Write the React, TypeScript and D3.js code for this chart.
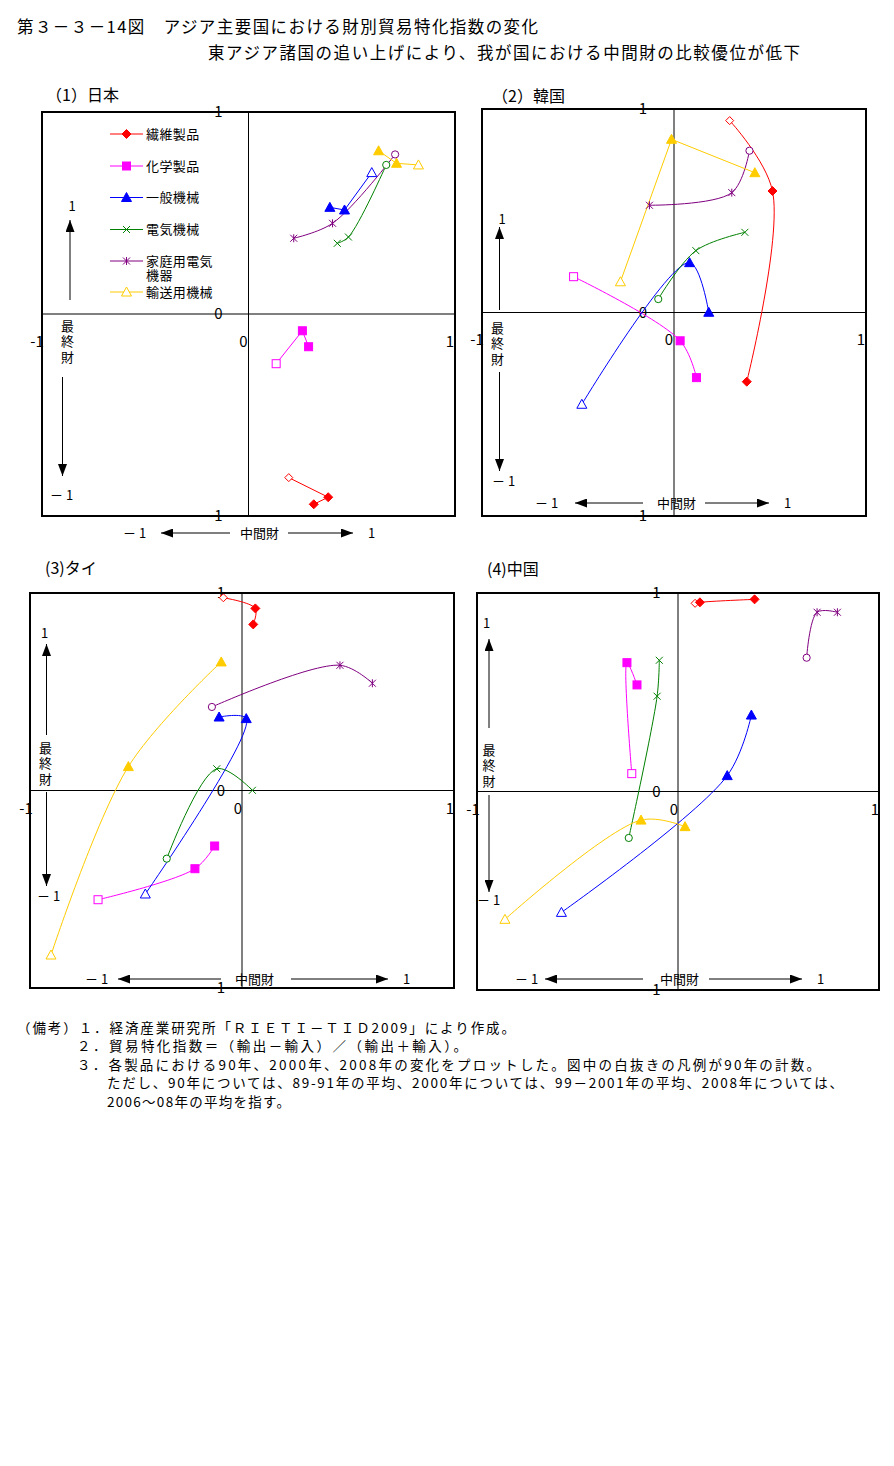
import * as d3 from 'd3';

// series order: 繊維製品, 化学製品, 一般機械, 電気機械, 家庭用電気機器, 輸送用機械
const seriesNames = ['繊維製品', '化学製品', '一般機械', '電気機械', '家庭用電気機器', '輸送用機械'];
const seriesColors = ['#FF0000', '#FF00FF', '#0000FF', '#008000', '#800080', '#FFCC00'];
const seriesMarkers = ['diamond', 'square', 'triangle', 'cross', 'star', 'triangle'];
const axisTicks = [-1, 0, 1];

// each series: [x, y] for 90年, 2000年, 2008年
const japan: [number, number][][] = [
  [[0.195, -0.81], [0.386, -0.907], [0.316, -0.942]],
  [[0.134, -0.246], [0.261, -0.083], [0.291, -0.162]],
  [[0.597, 0.70], [0.465, 0.515], [0.394, 0.528]],
  [[0.667, 0.738], [0.484, 0.381], [0.43, 0.35]],
  [[0.71, 0.79], [0.407, 0.449], [0.219, 0.375]],
  [[0.823, 0.738], [0.717, 0.746], [0.63, 0.808]],
];
const korea: [number, number][][] = [
  [[0.29, 0.943], [0.513, 0.597], [0.379, -0.34]],
  [[-0.523, 0.176], [0.032, -0.139], [0.117, -0.32]],
  [[-0.48, -0.451], [0.081, 0.245], [0.181, 0.001]],
  [[-0.082, 0.066], [0.114, 0.304], [0.369, 0.394]],
  [[0.393, 0.795], [0.301, 0.589], [-0.128, 0.527]],
  [[-0.279, 0.151], [-0.013, 0.851], [0.421, 0.687]],
];
const thailand: [number, number][][] = [
  [[-0.088, 0.976], [0.063, 0.922], [0.053, 0.841]],
  [[-0.679, -0.553], [-0.222, -0.396], [-0.129, -0.281]],
  [[-0.456, -0.524], [0.02, 0.364], [-0.108, 0.372]],
  [[-0.355, -0.345], [-0.119, 0.11], [0.049, 0.001]],
  [[-0.142, 0.423], [0.462, 0.634], [0.615, 0.543]],
  [[-0.901, -0.833], [-0.536, 0.121], [-0.098, 0.651]],
];
const china: [number, number][][] = [
  [[0.085, 0.948], [0.109, 0.953], [0.381, 0.968]],
  [[-0.23, 0.09], [-0.254, 0.649], [-0.204, 0.537]],
  [[-0.58, -0.609], [0.245, 0.08], [0.365, 0.385]],
  [[-0.245, -0.234], [-0.104, 0.48], [-0.093, 0.661]],
  [[0.64, 0.674], [0.692, 0.903], [0.793, 0.903]],
  [[-0.861, -0.644], [-0.184, -0.144], [0.035, -0.177]],
];

// which series are drawn as smoothed lines (others are straight segments)
const japanSmooth = [false, false, false, true, true, false];
const koreaSmooth = [true, true, true, true, true, false];
const thailandSmooth = [true, true, true, true, true, true];
const chinaSmooth = [true, true, true, true, true, true];

const titleText = '第３－３－14図　アジア主要国における財別貿易特化指数の変化';
const subtitleText = '東アジア諸国の追い上げにより、我が国における中間財の比較優位が低下';
const notes = [
  '（備考）１．経済産業研究所「ＲＩＥＴＩ－ＴＩＤ2009」により作成。',
  '２．貿易特化指数＝（輸出－輸入）／（輸出＋輸入）。',
  '３．各製品における90年、2000年、2008年の変化をプロットした。図中の白抜きの凡例が90年の計数。',
  'ただし、90年については、89-91年の平均、2000年については、99－2001年の平均、2008年については、',
  '2006～08年の平均を指す。',
];
const noteX = [17, 77, 77, 107, 107];
const noteY = [1033, 1051, 1070, 1088, 1107];
const noteW = [498, 390, 743, 736, 183];

const FONT = '"Noto Sans CJK JP", "Noto Sans", sans-serif';

interface PanelLayout {
  title: string; tx: number; ty: number;
  left: number; right: number; top: number; bottom: number;
  yLabDx: number; xLabDx: number; xLabDy: number;
  up: [number, number, number, number, number]; // label x,y ; arrow x, y1, y2
  vtext: [number, number];
  down: [number, number, number, number, number];
  under: [number, number, number, number, number, number, number];
}

const layouts: PanelLayout[] = [
  { title: '（1）日本', tx: 46, ty: 101, left: 42, right: 455, top: 112, bottom: 516,
    yLabDx: -26, xLabDx: -5, xLabDy: 28,
    up: [72, 206, 70, 300, 220], vtext: [67.5, 326], down: [50, 495, 62.5, 377, 476],
    under: [123, 533, 230, 161, 240, 288, 353] },
  { title: '（2）韓国', tx: 492, ty: 102, left: 482, right: 866, top: 109, bottom: 516,
    yLabDx: -27, xLabDx: -5, xLabDy: 27,
    up: [502, 219, 499.5, 310, 227], vtext: [497.5, 328], down: [492, 481, 499.5, 372, 471],
    under: [535, 503, 643, 575, 657, 705, 769] },
  { title: '(3)タイ', tx: 45, ty: 574, left: 30, right: 454, top: 593, bottom: 988,
    yLabDx: -17, xLabDx: -4, xLabDy: 18,
    up: [44.5, 633, 46.5, 735, 644], vtext: [45.5, 748], down: [37, 896, 46.5, 792, 886],
    under: [85, 979, 221, 118, 235, 291, 388] },
  { title: '(4)中国', tx: 487, ty: 575, left: 477, right: 879, top: 593, bottom: 990,
    yLabDx: -17.5, xLabDx: -4, xLabDy: 18,
    up: [486.5, 623, 489, 728, 639], vtext: [489, 750], down: [477, 900, 489, 795, 892],
    under: [515, 979, 643, 545, 660, 709, 802] },
];

const panelData = [japan, korea, thailand, china];
const panelSmooth = [japanSmooth, koreaSmooth, thailandSmooth, chinaSmooth];

function Marker({ type, x, y, color, open }: { type: string; x: number; y: number; color: string; open: boolean }) {
  const fill = open ? '#fff' : color;
  if (open && (type === 'cross' || type === 'star')) {
    return <circle cx={x} cy={y} r={3.6} fill="#fff" stroke={color} strokeWidth={1} />;
  }
  if (type === 'diamond') {
    const s = open ? 4 : 4.5;
    return <path d={`M${x},${y - s}L${x + s},${y}L${x},${y + s}L${x - s},${y}Z`} fill={fill} stroke={color} strokeWidth={1} />;
  }
  if (type === 'square') {
    return <rect x={x - 4} y={y - 4} width={8} height={8} fill={fill} stroke={color} strokeWidth={1} />;
  }
  if (type === 'triangle') {
    return <path d={`M${x},${y - 5}L${x + 5},${y + 4}L${x - 5},${y + 4}Z`} fill={fill} stroke={color} strokeWidth={1} />;
  }
  if (type === 'cross') {
    return <path d={`M${x - 3.5},${y - 3.5}L${x + 3.5},${y + 3.5}M${x + 3.5},${y - 3.5}L${x - 3.5},${y + 3.5}`} stroke={color} strokeWidth={1} />;
  }
  return <path d={`M${x - 3.5},${y - 3.5}L${x + 3.5},${y + 3.5}M${x + 3.5},${y - 3.5}L${x - 3.5},${y + 3.5}M${x},${y - 4}L${x},${y + 4}`} stroke={color} strokeWidth={1} />;
}

function Panel({ L, data, smooth, legend }: { L: PanelLayout; data: [number, number][][]; smooth: boolean[]; legend?: boolean }) {
  const x = d3.scaleLinear().domain([-1, 1]).range([L.left, L.right]);
  const y = d3.scaleLinear().domain([-1, 1]).range([L.bottom, L.top]);
  const smoothLine = d3.line<[number, number]>()
    .x(d => x(d[0]))
    .y(d => y(d[1]))
    .curve(d3.curveCatmullRom.alpha(0.5));
  const straightLine = d3.line<[number, number]>()
    .x(d => x(d[0]))
    .y(d => y(d[1]));
  const x0 = x(0), y0 = y(0);
  const [ulx, uly, uax, uay1, uay2] = L.up;
  const [dlx, dly, dax, day1, day2] = L.down;
  const [mlx, by, lax1, lax2, midx, rax1, rax2] = L.under;

  return (
    <g>
      <text x={L.tx} y={L.ty} fontSize={16} fontFamily={FONT}>{L.title}</text>
      <rect x={L.left} y={L.top} width={L.right - L.left} height={L.bottom - L.top} fill="#fff" />
      {axisTicks.map(t => (
        <text key={'y' + t} x={x0 + L.yLabDx} y={y(t)} dy="0.36em" textAnchor="end" fontSize={15} fontFamily={FONT}>{t}</text>
      ))}
      {axisTicks.map(t => (
        <text key={'x' + t} x={x(t) + L.xLabDx} y={y0 + L.xLabDy} dy="0.36em" textAnchor="middle" fontSize={15} fontFamily={FONT}>{t}</text>
      ))}
      <line x1={L.left} x2={L.right} y1={y0} y2={y0} stroke="#000" strokeWidth={1} />
      <line x1={x0} x2={x0} y1={L.top} y2={L.bottom} stroke="#000" strokeWidth={1} />

      {/* in-panel direction arrows */}
      <text x={ulx} y={uly} dy="0.36em" textAnchor="middle" fontSize={13} fontFamily={FONT}>1</text>
      <line x1={uax} x2={uax} y1={uay1} y2={uay2} stroke="#000" strokeWidth={1} markerEnd="url(#ah)" />
      {['最', '終', '財'].map((c, i) => (
        <text key={c} x={L.vtext[0]} y={L.vtext[1] + i * 15.5} dy="0.36em" textAnchor="middle" fontSize={13} fontFamily={FONT}>{c}</text>
      ))}
      <line x1={dax} x2={dax} y1={day1} y2={day2} stroke="#000" strokeWidth={1} markerEnd="url(#ah)" />
      <text x={dlx} y={dly} dy="0.36em" fontSize={13} fontFamily={FONT}>－ 1</text>

      <text x={mlx} y={by} dy="0.36em" fontSize={13} fontFamily={FONT}>－ 1</text>
      <line x1={lax1} x2={lax2} y1={by} y2={by} stroke="#000" strokeWidth={1} markerEnd="url(#ah)" />
      <text x={midx} y={by} dy="0.36em" fontSize={13} fontFamily={FONT}>中間財</text>
      <line x1={rax1} x2={rax2} y1={by} y2={by} stroke="#000" strokeWidth={1} markerEnd="url(#ah)" />
      <text x={rax2 + 15} y={by} dy="0.36em" fontSize={13} fontFamily={FONT}>1</text>

      {data.map((pts, i) => (
        <path key={'l' + i} d={(smooth[i] ? smoothLine(pts) : straightLine(pts)) || ''} fill="none" stroke={seriesColors[i]} strokeWidth={1} />
      ))}
      {data.map((pts, i) => pts.map((p, j) => (
        <Marker key={`m${i}-${j}`} type={seriesMarkers[i]} x={x(p[0])} y={y(p[1])} color={seriesColors[i]} open={j === 0} />
      )))}

      {legend && seriesNames.map((name, i) => {
        const ly = [134, 166, 197.5, 229.5, 261, 292][i];
        return (
          <g key={name}>
            <line x1={110} x2={143} y1={ly} y2={ly} stroke={seriesColors[i]} strokeWidth={1} />
            <Marker type={seriesMarkers[i]} x={126.5} y={ly} color={seriesColors[i]} open={i === 5} />
            {name === '家庭用電気機器' ? (
              <text x={146} y={ly} dy="0.36em" fontSize={13} letterSpacing={0.4} fontFamily={FONT}>
                <tspan x={146}>家庭用電気</tspan>
                <tspan x={146} dy={14}>機器</tspan>
              </text>
            ) : (
              <text x={146} y={ly} dy="0.36em" fontSize={13} letterSpacing={0.4} fontFamily={FONT}>{name}</text>
            )}
          </g>
        );
      })}

      <rect x={L.left} y={L.top} width={L.right - L.left} height={L.bottom - L.top} fill="none" stroke="#000" strokeWidth={2} />
    </g>
  );
}

export default function App() {
  return (
    <svg width={894} height={1466} style={{ position: 'absolute', left: 0, top: 0, background: '#fff' }}>
      <defs>
        <marker id="ah" viewBox="0 0 12 9" refX={12} refY={4.5} markerWidth={12} markerHeight={9} orient="auto" markerUnits="userSpaceOnUse">
          <path d="M0,0L12,4.5L0,9Z" fill="#000" />
        </marker>
      </defs>
      <rect width={894} height={1466} fill="#fff" />
      <text x={17} y={33} fontSize={16.5} textLength={521} lengthAdjust="spacing" fontFamily={FONT}>{titleText}</text>
      <text x={208} y={59} fontSize={16.5} textLength={592} lengthAdjust="spacing" fontFamily={FONT}>{subtitleText}</text>

      {layouts.map((L, i) => (
        <Panel key={L.title} L={L} data={panelData[i]} smooth={panelSmooth[i]} legend={i === 0} />
      ))}

      {notes.map((n, i) => (
        <text key={i} x={noteX[i]} y={noteY[i]} fontSize={13.5} textLength={noteW[i]} lengthAdjust="spacing" fontFamily={FONT}>{n}</text>
      ))}
    </svg>
  );
}
